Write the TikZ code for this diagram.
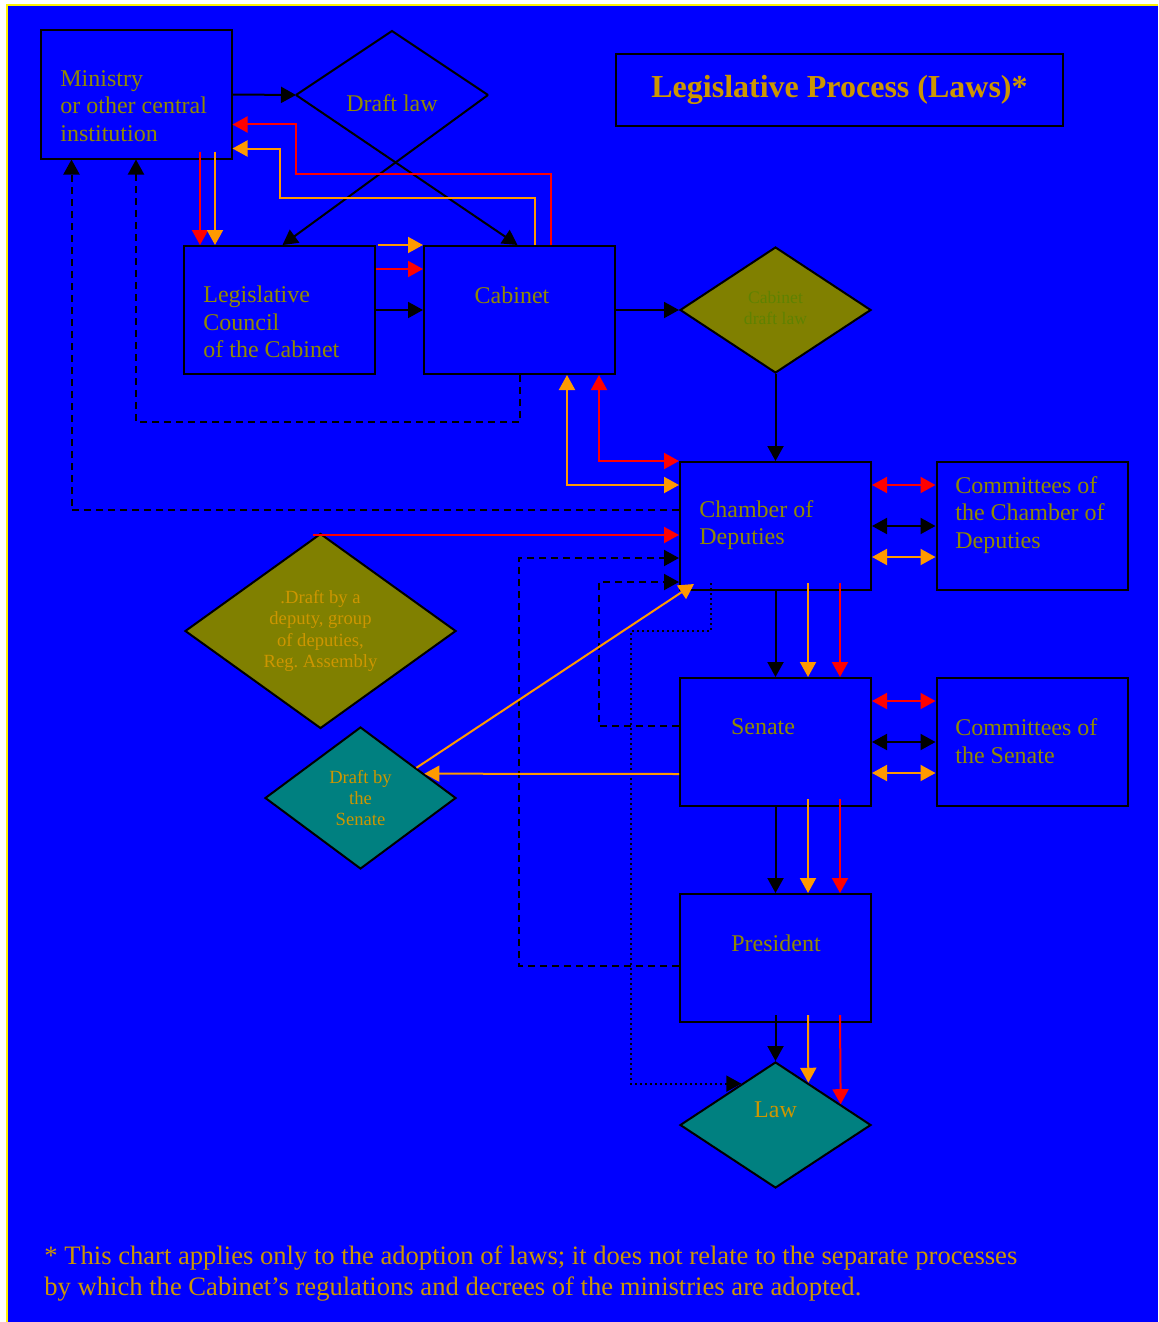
\documentclass[tikz,border=0pt]{standalone}
\usepackage{fontspec}
\setmainfont{Liberation Serif}
\usetikzlibrary{arrows.meta, shapes.geometric, calc}

\definecolor{bgblue}{RGB}{0,0,255}
\definecolor{olivefill}{RGB}{128,128,0}
\definecolor{tealfill}{RGB}{0,128,128}
\definecolor{boxtext}{RGB}{145,138,0}
\definecolor{goldtext}{RGB}{205,150,0}
\definecolor{greentext}{RGB}{95,130,0}
\definecolor{arrorange}{RGB}{255,153,0}

\begin{document}
\begin{tikzpicture}[x=0.5pt, y=-0.5pt,
    box/.style={draw=black, line width=1pt, rectangle, minimum width=95.5pt, minimum height=64pt, inner sep=0pt},
    boxtxt/.style={text=boxtext, font=\fontsize{12}{13.8}\selectfont, align=left, inner sep=0pt},
    dia/.style={draw=black, line width=1pt, diamond, inner sep=0pt},
    diatxt/.style={text=goldtext, font=\fontsize{9.3}{10.7}\selectfont, align=center},
    arr/.style={line width=1pt, -{Triangle[length=7.5pt,width=8pt]}},
    twoway/.style={line width=1pt, {Triangle[length=7.5pt,width=8pt]}-{Triangle[length=7.5pt,width=8pt]}},
    dashline/.style={dash pattern=on 3.5pt off 2.5pt},
    dotline/.style={dash pattern=on 1pt off 1.5pt}]
    % page
    \useasboundingbox (0,0) rectangle (1158,1322);
    \fill[white] (0,0) rectangle (1158,1322);
    \fill[bgblue] (7,5) rectangle (1158,1322);
    \draw[yellow, line width=1pt] (7,1322) -- (7,5) -- (1158,5);

    % boxes
    \node[box] (min) at (136,94.5) {};
    \node[box] (lc) at (279.5,310) {};
    \node[box] (cab) at (519.5,310) {};
    \node[box] (ch) at (775.5,526) {};
    \node[box] (cch) at (1032,526) {};
    \node[box] (sen) at (775.5,742) {};
    \node[box] (csen) at (1032,742) {};
    \node[box] (pres) at (775.5,958) {};

    \node[boxtxt, anchor=west] (min-t) at (60,106) {Ministry\\or other central\\institution};
    \node[boxtxt, anchor=west] (lc-t) at (203,322) {Legislative\\Council\\of the Cabinet};
    \node[boxtxt] (cab-t) at (512,295) {Cabinet};
    \node[boxtxt, anchor=west] (ch-t) at (699,525) {Chamber of\\Deputies};
    \node[boxtxt, anchor=west] (cch-t) at (955,515) {Committees of\\the Chamber of\\Deputies};
    \node[boxtxt] (sen-t) at (763,727) {Senate};
    \node[boxtxt, anchor=west] (csen-t) at (955,741) {Committees of\\the Senate};
    \node[boxtxt] (pres-t) at (776,943) {President};

    % title
    \node[draw=black, line width=1pt, minimum width=223.5pt, minimum height=36pt, text=goldtext,
        font=\fontsize{16}{18}\selectfont\bfseries] (title) at (839.5,90) {Legislative Process (Laws)*};

    % draft law (open diamond)
    \coordinate (dl-t) at (392,31);
    \coordinate (dl-l) at (296,95);
    \coordinate (dl-r) at (488,95);
    \node[boxtxt] (dl) at (392,103) {Draft law};
    \draw[line width=1pt] (dl-l) -- (dl-t) -- (dl-r);

    % diamonds
    \node[dia, fill=olivefill, minimum width=95.5pt, minimum height=63pt] (cdl) at (775.5,310)
        {\textcolor{greentext}{\fontsize{8.8}{10.5}\selectfont\begin{tabular}{@{}c@{}}Cabinet\\draft law\end{tabular}}};
    \node[dia, fill=olivefill, minimum width=135.5pt, minimum height=95pt, diatxt] (dep) at (320.5,631)
        {.Draft by a\\deputy, group\\of deputies,\\Reg.\ Assembly};
    \node[dia, fill=tealfill, minimum width=95.5pt, minimum height=71pt, diatxt] (dsen) at (360.5,798)
        {Draft by\\the\\Senate};
    \node[dia, fill=tealfill, minimum width=95.5pt, minimum height=63pt, text=goldtext,
        font=\fontsize{12}{13.8}\selectfont, text depth=15pt] (law) at (775.5,1125) {Law};

    % ministry, draft law, council, cabinet
    \draw[arr] (min.east) -- (dl-l);
    \draw[arr] (dl-r) -- ($(lc.north)+(3,0)$);
    \draw[arr] (dl-l) -- ($(cab.north)+(-2,0)$);
    \draw[arr, red] ($(lc.north west |- min.south)+(17,-8)$) -- ($(lc.north west)+(17,0)$);
    \draw[arr, arrorange] ($(lc.north west |- min.south)+(32,-8)$) -- ($(lc.north west)+(32,0)$);
    \draw[arr, red] ($(cab.north west)+(128,0)$) |- ($(dl-l)+(0,79)$) |- ($(min.north east)+(0,95)$);
    \draw[arr, arrorange] ($(cab.north west)+(112,0)$) |- ($(dl-l)+(-16,103)$) |- ($(min.north east)+(0,119)$);
    \draw[arr, arrorange] ($(lc.north east)+(2,0)$) -- (cab.north west);
    \draw[arr, red] ($(lc.north east)+(0,24)$) -- ($(cab.north west)+(0,24)$);
    \draw[arr] (lc.east) -- (cab.east -| cab.west);
    \draw[arr, dashline] (cab.south) -- ++(0,47) -| (min.south);
    \draw[arr, dashline] ($(ch.west)+(0,-16)$) -| ($(min.south west)+(32,0)$);

    % cabinet to chamber
    \draw[arr] (cab.east) -- (cdl.west);
    \draw[arr] (cdl.south) -- (ch.north);
    \draw[twoway, red] (ch.north west) -| ($(cab.south west)+(176,0)$);
    \draw[twoway, arrorange] ($(ch.north west)+(0,24)$) -| ($(cab.south west)+(144,0)$);

    % committees
    \draw[twoway, red] ($(ch.north east)+(0,24)$) -- ($(cch.north west)+(0,24)$);
    \draw[twoway] (ch.east) -- (cch.west);
    \draw[twoway, arrorange] ($(ch.north east)+(0,96)$) -- ($(cch.north west)+(0,96)$);
    \draw[twoway, red] ($(sen.north east)+(0,24)$) -- ($(csen.north west)+(0,24)$);
    \draw[twoway] (sen.east) -- (csen.west);
    \draw[twoway, arrorange] ($(sen.north east)+(0,96)$) -- ($(csen.north west)+(0,96)$);

    % drafts into chamber
    \draw[arr, red] ($(dep.center)+(-8,-96)$) -- ($(dep.center -| ch.west)+(0,-96)$);
    \draw[arr, dashline] ($(pres.west)+(0,8)$) -| ($(ch.west)+(-160,32)$) -- ($(ch.west)+(0,32)$);
    \draw[arr, dashline] ($(sen.west)+(0,-16)$) -| ($(ch.west)+(-80,56)$) -- ($(ch.west)+(0,56)$);
    \draw[arr, dotline] ($(ch.south west)+(32,-8)$) |- ($(ch.south west)+(-48,40)$) |- ($(law.west)!0.646!(law.north)$);
    \draw[arr, arrorange] ($(sen.west)+(0,32)$) -- ($(dsen.east)!0.338!(dsen.north)$);
    \draw[arr, arrorange] ($(dsen.east)!0.42!(dsen.north)$) -- ($(ch.south west)+(15,-7)$);

    % chamber, senate, president, law
    \draw[arr] (ch.south) -- (sen.north);
    \draw[arr, arrorange] ($(ch.south)+(32.5,-8)$) -- ($(sen.north)+(32.5,0)$);
    \draw[arr, red] ($(ch.south)+(64.5,-8)$) -- ($(sen.north)+(64.5,0)$);
    \draw[arr] (sen.south) -- (pres.north);
    \draw[arr, arrorange] ($(sen.south)+(32.5,-8)$) -- ($(pres.north)+(32.5,0)$);
    \draw[arr, red] ($(sen.south)+(64.5,-8)$) -- ($(pres.north)+(64.5,0)$);
    \draw[arr] ($(pres.south)+(0,-8)$) -- (law.north);
    \draw[arr, arrorange] ($(pres.south)+(32.5,-8)$) -- ($(law.north)!0.34!(law.east)$);
    \draw[arr, red] ($(pres.south)+(64.5,-8)$) -- ($(law.north)!0.675!(law.east)$);

    % footnote
    \node[anchor=west, align=left, inner sep=0pt, text=goldtext, font=\fontsize{13.3}{15.5}\selectfont] (note) at (44,1273)
        {* This chart applies only to the adoption of laws; it does not relate to the separate processes\\
         by which the Cabinet’s regulations and decrees of the ministries are adopted.};
\end{tikzpicture}
\end{document}
